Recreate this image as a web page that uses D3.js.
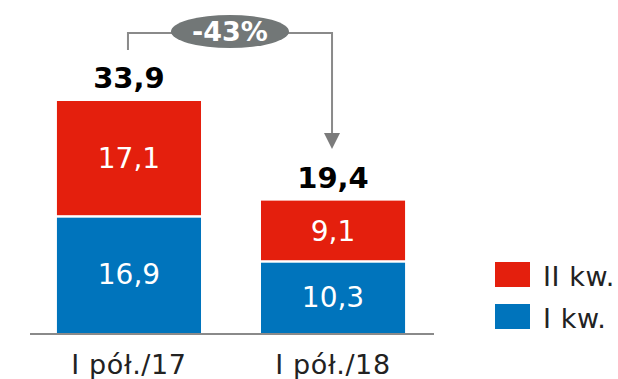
<!DOCTYPE html>
<html>
<head>
<meta charset="utf-8">
<script src="https://cdn.jsdelivr.net/npm/d3@7"></script>
<style>
  body { margin: 0; background: #fff; }
  svg { display: block; font-family: "DejaVu Sans", Verdana, sans-serif; }
</style>
</head>
<body>
<svg id="chart" width="618" height="379"></svg>
<script>
// data
const categories = ["I pół./17", "I pół./18"];
const q1Values = [16.9, 10.3];   // I kw.
const q2Values = [17.1, 9.1];    // II kw.
const totals = [33.9, 19.4];
const seriesNames = ["II kw.", "I kw."];
const changeLabel = "-43%";

const colors = { q1: "#0074bc", q2: "#e41f0d", axis: "#8a8a8a", badge: "#727777" };

const svg = d3.select("#chart");

const x = d3.scaleBand()
  .domain(categories)
  .range([30, 432])
  .paddingInner(0.294)
  .paddingOuter(0.132);

const y = d3.scaleLinear()
  .domain([0, 34])
  .range([333, 101]);

const rows = categories.map((c, i) => ({ cat: c, q1: q1Values[i], q2: q2Values[i], total: totals[i] }));

const gap = 2.5;

// bottom segment (I kw.)
svg.selectAll("rect.q1").data(rows).join("rect")
  .attr("class", "q1")
  .attr("x", d => x(d.cat))
  .attr("width", x.bandwidth())
  .attr("y", d => y(d.q1))
  .attr("height", d => y(0) - y(d.q1))
  .attr("fill", colors.q1);

// top segment (II kw.)
svg.selectAll("rect.q2").data(rows).join("rect")
  .attr("class", "q2")
  .attr("x", d => x(d.cat))
  .attr("width", x.bandwidth())
  .attr("y", d => y(d.q1 + d.q2))
  .attr("height", d => y(d.q1) - y(d.q1 + d.q2) - gap)
  .attr("fill", colors.q2);

const fmt = v => v.toFixed(1).replace(".", ",");

svg.selectAll("text.l1").data(rows).join("text")
  .attr("class", "l1")
  .attr("x", d => x(d.cat) + x.bandwidth() / 2)
  .attr("y", d => (y(0) + y(d.q1)) / 2 + 9)
  .attr("text-anchor", "middle")
  .attr("fill", "#fff")
  .attr("font-size", 28)
  .text(d => fmt(d.q1));

svg.selectAll("text.l2").data(rows).join("text")
  .attr("class", "l2")
  .attr("x", d => x(d.cat) + x.bandwidth() / 2)
  .attr("y", d => (y(d.q1) + y(d.q1 + d.q2)) / 2 + 9)
  .attr("text-anchor", "middle")
  .attr("fill", "#fff")
  .attr("font-size", 28)
  .text(d => fmt(d.q2));

svg.selectAll("text.tot").data(rows).join("text")
  .attr("class", "tot")
  .attr("x", d => x(d.cat) + x.bandwidth() / 2)
  .attr("y", d => y(d.q1 + d.q2) - 13)
  .attr("text-anchor", "middle")
  .attr("fill", "#000")
  .attr("font-size", 29)
  .attr("font-weight", "bold")
  .text(d => fmt(d.total));

// baseline
svg.append("line")
  .attr("x1", 30).attr("x2", 434)
  .attr("y1", y(0) + 1).attr("y2", y(0) + 1)
  .attr("stroke", colors.axis)
  .attr("stroke-width", 2);

// category labels
svg.selectAll("text.cat").data(categories).join("text")
  .attr("class", "cat")
  .attr("x", d => x(d) + x.bandwidth() / 2)
  .attr("y", 374)
  .attr("text-anchor", "middle")
  .attr("fill", "#222")
  .attr("font-size", 27)
  .attr("letter-spacing", 0.6)
  .text(d => d);

// change annotation
const cx0 = x(categories[0]) + x.bandwidth() / 2 - 1;
const cx1 = x(categories[1]) + x.bandwidth() / 2 - 1;
const lineY = 33;

svg.append("path")
  .attr("d", `M${cx0},50 V${lineY} H${cx1} V134`)
  .attr("fill", "none")
  .attr("stroke", colors.axis)
  .attr("stroke-width", 2);

svg.append("path")
  .attr("d", `M${cx1 - 8},133 L${cx1 + 8},133 L${cx1},149 Z`)
  .attr("fill", "#7b7b7b");

const bx = (cx0 + cx1) / 2;
svg.append("ellipse")
  .attr("cx", bx).attr("cy", 31.5)
  .attr("rx", 59).attr("ry", 16.5)
  .attr("fill", colors.badge);

svg.append("text")
  .attr("x", bx).attr("y", 41)
  .attr("text-anchor", "middle")
  .attr("fill", "#fff")
  .attr("font-size", 27)
  .attr("font-weight", "bold")
  .text(changeLabel);

// legend
const legend = svg.append("g").attr("transform", "translate(495,262)");
const legendColors = [colors.q2, colors.q1];
legend.selectAll("rect").data(seriesNames).join("rect")
  .attr("x", 0)
  .attr("y", (d, i) => i * 42)
  .attr("width", 35)
  .attr("height", 25)
  .attr("fill", (d, i) => legendColors[i]);
legend.selectAll("text").data(seriesNames).join("text")
  .attr("x", 48)
  .attr("y", (d, i) => i * 42 + 24)
  .attr("fill", "#222")
  .attr("font-size", 27)
  .attr("letter-spacing", 0.6)
  .text(d => d);
</script>
</body>
</html>
